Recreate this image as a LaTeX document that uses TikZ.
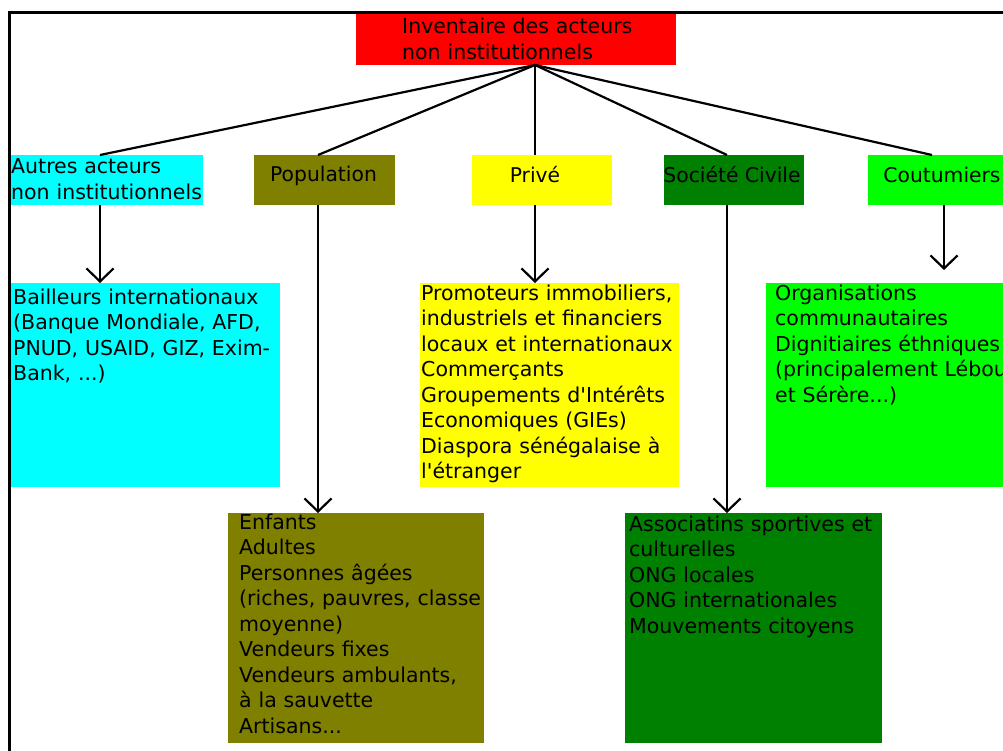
\documentclass[tikz,border=0pt]{standalone}
\usepackage{fontspec}
\setmainfont{DejaVu Sans}
\usetikzlibrary{arrows.meta,fit}
\definecolor{cRed}{HTML}{FF0000}
\definecolor{cCyan}{HTML}{00FFFF}
\definecolor{cOlive}{HTML}{808000}
\definecolor{cYellow}{HTML}{FFFF00}
\definecolor{cDark}{HTML}{008000}
\definecolor{cLime}{HTML}{00FF00}
\newcommand{\apo}{\textquotesingle}
\begin{document}
\begin{tikzpicture}[x=1pt,y=-1pt,
  area/.style={fill=#1, draw=none, inner sep=0pt, outer sep=0pt},
  txt/.style={anchor=base west, inner sep=0pt, text width=400pt, align=left,
              font=\fontsize{20.5}{25.5}\selectfont},
  headtxt/.style={anchor=base, inner sep=0pt, font=\fontsize{20.3}{25.5}\selectfont},
  link/.style={line width=2.2pt, black},
  arr/.style={link, -{Straight Barb[length=13pt,width=27pt]}}]
\clip (0,0) rectangle (1003,751);

% coloured boxes
\node[fit={(356,14) (676,65)}, area=cRed] (root) {};
\node[fit={(11,155) (203,205)}, area=cCyan] (autres) {};
\node[fit={(254,155) (395,205)}, area=cOlive] (pop) {};
\node[fit={(472,155) (612,205)}, area=cYellow] (prive) {};
\node[fit={(664,155) (804,205)}, area=cDark] (soc) {};
\node[fit={(868,155) (1010,205)}, area=cLime] (cou) {};
\node[fit={(11,283) (280,487)}, area=cCyan] (bail) {};
\node[fit={(420,283) (679,487)}, area=cYellow] (prom) {};
\node[fit={(766,283) (1010,487)}, area=cLime] (org) {};
\node[fit={(228,513) (484,743)}, area=cOlive] (enf) {};
\node[fit={(625,513) (882,743)}, area=cDark] (asso) {};

% outer frame (top and left sides)
\draw[line width=3pt] (9.5,770) -- (9.5,12.5) -- (1020,12.5);

% branch positions
\coordinate (hub) at (535,0);
\coordinate (xa) at (100,0);
\coordinate (xp) at (318,0);
\coordinate (xv) at (535,0);
\coordinate (xs) at (727,0);
\coordinate (xc) at (932,0);
\coordinate (xcd) at (944,0);
\coordinate (cou-end) at (944,270);

% fan from the root
\draw[link] (hub |- root.south) -- (xa |- autres.north);
\draw[link] (hub |- root.south) -- (xp |- pop.north);
\draw[link] (hub |- root.south) -- (xv |- prive.north);
\draw[link] (hub |- root.south) -- (xs |- soc.north);
\draw[link] (hub |- root.south) -- (xc |- cou.north);

% arrows down to the detail boxes
\draw[arr] (xa |- autres.south) -- (xa |- bail.north);
\draw[arr] (xp |- pop.south) -- (xp |- enf.north);
\draw[arr] (xv |- prive.south) -- (xv |- prom.north);
\draw[arr] (xs |- soc.south) -- (xs |- asso.north);
\draw[arr] (xcd |- cou.south) -- (cou-end);

% texts
\node[txt] (root-t) at (402,34) {Inventaire des acteurs\\non institutionnels};
\node[txt] (autres-t) at (11,174) {Autres acteurs\\non institutionnels};
\node[headtxt] (pop-t) at (323.5,182) {Population};
\node[headtxt] (prive-t) at (535,183) {Privé};
\node[headtxt] (soc-t) at (732,183) {Société Civile};
\node[headtxt] (cou-t) at (942,183) {Coutumiers};

\node[txt] (bail-t) at (13,304) {Bailleurs internationaux\\(Banque Mondiale, AFD,\\PNUD, USAID, GIZ, Exim-\\Bank, ...)};
\node[txt] (prom-t) at (421,300) {Promoteurs immobiliers,\\industriels et financiers\\locaux et internationaux\\Commerçants\\Groupements d\apo Intérêts\\Economiques (GIEs)\\Diaspora sénégalaise à\\l\apo étranger};
\node[txt] (org-t) at (775,300) {Organisations\\communautaires\\Dignitiaires éthniques\\(principalement Lébou\\et Sérère...)};
\node[txt] (enf-t) at (239,529) {Enfants\\Adultes\\Personnes âgées\\(riches, pauvres, classe\\moyenne)\\Vendeurs fixes\\Vendeurs ambulants,\\à la sauvette\\Artisans...};
\node[txt] (asso-t) at (629,531) {Associatins sportives et\\culturelles\\ONG locales\\ONG internationales\\Mouvements citoyens};
\end{tikzpicture}
\end{document}
